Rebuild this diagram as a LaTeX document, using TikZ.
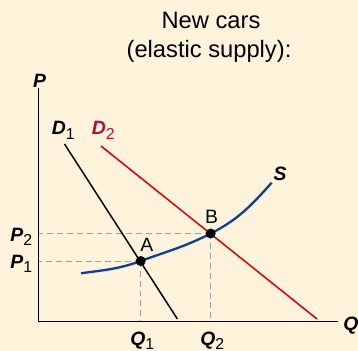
\documentclass[tikz,border=0pt]{standalone}
\usepackage{fontspec}
\setmainfont{Liberation Sans}

\definecolor{bgcream}{RGB}{255,243,220}
\definecolor{supblue}{RGB}{10,60,165}
\definecolor{demred}{RGB}{222,0,0}
\definecolor{labred}{RGB}{180,16,60}
\newcommand{\axlab}[2]{\textbf{\textit{#1}}\raisebox{-2.8pt}{\fontsize{9}{9}\selectfont #2}}

\begin{document}
\begin{tikzpicture}[x=0.02cm, y=-0.02cm,
  lab/.style={font=\fontsize{11}{13}\selectfont, inner sep=0pt},
  dot/.style={circle, fill=black, inner sep=0pt, minimum size=0.2cm},
  guide/.style={color=gray!75, line width=0.55pt, dash pattern=on 3.4pt off 2.2pt}]
\fill[bgcream] (0,0) rectangle (358,351);
\useasboundingbox (0,0) rectangle (358,351);
\node[font=\fontsize{13.5}{17}\selectfont, anchor=base] (title1) at (211,29) {New cars};
\node[font=\fontsize{13.5}{17}\selectfont, anchor=base] (title2) at (209,57.5) {(elastic supply):};
\coordinate (O) at (38.5,321.5);
\coordinate (ytop) at (38.5,88);
\coordinate (xend) at (338,321.5);
\coordinate (A) at (140.7,261);
\coordinate (B) at (210.7,233.5);
\coordinate (d1a) at (64.5,144);
\coordinate (d1b) at (177.4,319);
\coordinate (d2a) at (101,146);
\coordinate (d2b) at (317,319);
\foreach \pt in {A,B} {
\draw[guide] (\pt) -- (\pt -| O);
\draw[guide] (\pt) -- (\pt |- O);
}
\draw[line width=0.75pt] (ytop) -- (O) -- (xend);
\draw[line width=0.85pt] (d1a) -- (d1b);
\draw[demred, line width=0.85pt] (d2a) -- (d2b);
\draw[supblue, line width=1.3pt] (81,273.3) to[out=8, in=200] (A) to[out=20, in=207] (B) to[out=27, in=228] (271.7,182.7);
\foreach \pt in {A,B} {
\node[dot] (dot\pt) at (\pt) {};
}
\node[lab, anchor=base] (lblP) at (39.5,88) {\textbf{\textit{P}}};
\node[lab, anchor=base west] (lblQ) at (343,330) {\textbf{\textit{Q}}};
\node[lab, anchor=base west] (lblD1) at (51.5,135) {\axlab{D}{1}};
\node[lab, anchor=base west, labred] (lblD2) at (91.5,135) {\axlab{D}{2}};
\node[lab, anchor=base] (lblS) at (280,180.7) {\textbf{\textit{S}}};
\node[lab, anchor=base] (lblA) at (146.7,251.7) {A};
\node[lab, anchor=base] (lblB) at (211.5,223.3) {B};
\node[lab, anchor=base west] (lblP2) at (10,241) {\axlab{P}{2}};
\node[lab, anchor=base west] (lblP1) at (10,268) {\axlab{P}{1}};
\node[lab, anchor=base west] (lblQ1) at (130,345) {\axlab{Q}{1}};
\node[lab, anchor=base west] (lblQ2) at (200,345) {\axlab{Q}{2}};
\end{tikzpicture}
\end{document}
